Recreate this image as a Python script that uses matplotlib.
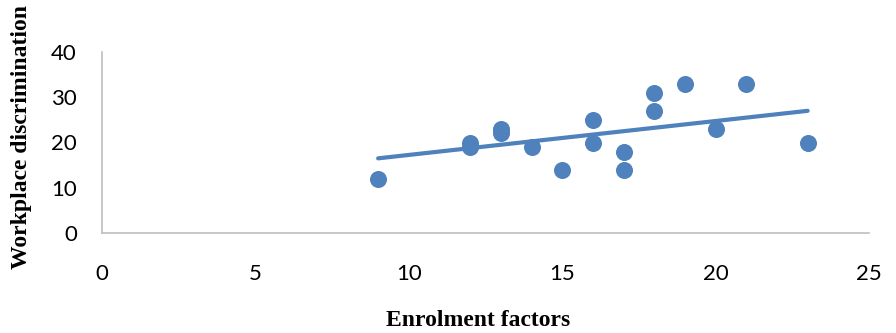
import matplotlib
matplotlib.use("Agg")
import matplotlib.pyplot as plt

# enrolment factors vs workplace discrimination
enrolment = [9, 12, 12, 13, 13, 14, 15, 16, 16, 17, 17, 18, 18, 19, 20, 21, 23]
discrimination = [12, 20, 19, 23, 22, 19, 14, 25, 20, 18, 14, 31, 27, 33, 23, 33, 20]

# linear trend line as drawn in the chart (ends)
trend_x = [9, 23]
trend_y = [16.5, 27.0]

x_ticks = [0, 5, 10, 15, 20, 25]
y_ticks = [0, 10, 20, 30, 40]

blue = "#4F81BD"
grey = "#BFBFBF"

fig = plt.figure(figsize=(8.96, 3.33), dpi=100)
ax = fig.add_axes([102 / 896, 1 - 233 / 333, (869 - 102) / 896, (233 - 52) / 333])

ax.scatter(enrolment, discrimination, s=150, color=blue, zorder=3, linewidths=0)
ax.plot(trend_x, trend_y, color=blue, linewidth=3, solid_capstyle="round", zorder=2)

ax.set_xlim(0, 25)
ax.set_ylim(0, 40)
ax.set_xticks(x_ticks)
ax.set_yticks(y_ticks)
ax.tick_params(axis="both", length=0, labelsize=16)
ax.tick_params(axis="x", pad=22)
ax.tick_params(axis="y", pad=18)
for lab in ax.get_xticklabels() + ax.get_yticklabels():
    lab.set_family("Lato")
    lab.set_color("black")

for side in ["top", "right"]:
    ax.spines[side].set_visible(False)
for side in ["left", "bottom"]:
    ax.spines[side].set_color(grey)
    ax.spines[side].set_linewidth(1.2)

fig.text(478 / 896, 1 - 321 / 333, "Enrolment factors", ha="center", va="center",
         family="Liberation Serif", fontweight="bold", fontsize=17)
fig.text(22 / 896, 1 - 137 / 333, "Workplace discrimination", ha="center", va="center",
         rotation=90, family="Liberation Serif", fontweight="bold", fontsize=17)

fig.savefig("out.png", dpi=100)
